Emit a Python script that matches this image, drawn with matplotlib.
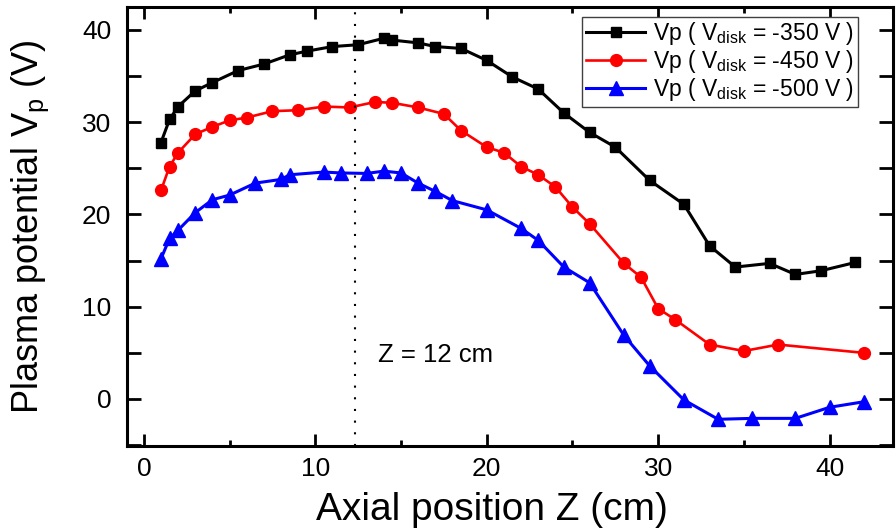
import matplotlib
matplotlib.use("Agg")
import matplotlib.pyplot as plt
from matplotlib.ticker import MultipleLocator

plt.rcParams['font.family'] = ['Liberation Sans', 'DejaVu Sans']
plt.rcParams['mathtext.fontset'] = 'custom'
plt.rcParams['mathtext.rm'] = 'Liberation Sans'
plt.rcParams['mathtext.it'] = 'Liberation Sans:italic'
plt.rcParams['mathtext.bf'] = 'Liberation Sans:bold'

# ---- data ----
z_350 = [1, 1.5, 2, 3, 4, 5.5, 7, 8.5, 9.5, 11, 12.5, 14, 14.5, 16, 17, 18.5,
         20, 21.5, 23, 24.5, 26, 27.5, 29.5, 31.5, 33, 34.5, 36.5, 38, 39.5, 41.5]
vp_350 = [27.8, 30.3, 31.7, 33.4, 34.3, 35.6, 36.3, 37.3, 37.7, 38.2, 38.4, 39.1,
          38.9, 38.6, 38.2, 38.0, 36.7, 34.9, 33.6, 31.0, 28.9, 27.3, 23.7, 21.1,
          16.6, 14.3, 14.7, 13.5, 13.9, 14.8]

z_450 = [1, 1.5, 2, 3, 4, 5, 6, 7.5, 9, 10.5, 12, 13.5, 14.5, 16, 17.5, 18.5,
         20, 21, 22, 23, 24, 25, 26, 28, 29, 30, 31, 33, 35, 37, 42]
vp_450 = [22.6, 25.2, 26.7, 28.7, 29.5, 30.2, 30.5, 31.2, 31.3, 31.7, 31.6, 32.2,
          32.1, 31.6, 30.9, 29.1, 27.3, 26.7, 25.2, 24.3, 23.0, 20.8, 19.0, 14.7,
          13.2, 9.8, 8.6, 5.9, 5.2, 5.9, 5.0]

z_500 = [1, 1.5, 2, 3, 4, 5, 6.5, 8, 8.5, 10.5, 11.5, 13, 14, 15, 16, 17, 18,
         20, 22, 23, 24.5, 26, 28, 29.5, 31.5, 33.5, 35.5, 38, 40, 42]
vp_500 = [15.2, 17.4, 18.3, 20.2, 21.6, 22.1, 23.4, 23.8, 24.3, 24.6, 24.5, 24.45,
          24.7, 24.5, 23.4, 22.5, 21.5, 20.5, 18.5, 17.2, 14.3, 12.6, 6.9, 3.6,
          -0.1, -2.2, -2.1, -2.1, -0.9, -0.3]

labels = [r'Vp ( V$_{\mathrm{disk}}$ = -350 V )',
          r'Vp ( V$_{\mathrm{disk}}$ = -450 V )',
          r'Vp ( V$_{\mathrm{disk}}$ = -500 V )']
z_mark = 12.3
mark_text = 'Z = 12 cm'

# ---- figure ----
fig = plt.figure(figsize=(8.96, 5.31), dpi=100)
ax = fig.add_axes([0.1414, 0.160, 0.9967 - 0.1414, 0.987 - 0.160])

ax.plot(z_350, vp_350, color='black', lw=2.2, marker='s', ms=7.5, label=labels[0])
ax.plot(z_450, vp_450, color='#ff0000', lw=1.9, marker='o', ms=8.5, label=labels[1])
ax.plot(z_500, vp_500, color='#0000ff', lw=2.2, marker='^', ms=9.5, label=labels[2])

ax.axvline(z_mark, color='black', lw=1.5, linestyle=(0, (1, 4.6)))
ax.text(13.66, 4.8, mark_text, fontsize=18.5, ha='left', va='center')

ax.set_xlim(-1, 43.7)
ax.set_ylim(-5.1, 42.5)

ax.xaxis.set_major_locator(MultipleLocator(10))
ax.xaxis.set_minor_locator(MultipleLocator(5))
ax.yaxis.set_major_locator(MultipleLocator(10))
ax.yaxis.set_minor_locator(MultipleLocator(5))

for s in ax.spines.values():
    s.set_linewidth(2.2)

ax.tick_params(axis='x', which='major', direction='in', length=8.6, width=2,
               top=True, labelsize=19, pad=8)
ax.tick_params(axis='x', which='minor', direction='in', length=4.3, width=2, top=True)
ax.tick_params(axis='y', which='major', direction='in', length=10, width=2,
               right=True, labelsize=19, pad=11)
ax.tick_params(axis='y', which='minor', direction='in', length=10, width=2, right=True)

ax.set_xlabel('Axial position Z (cm)', fontsize=28, labelpad=6)
ax.xaxis.set_label_coords(0.477, -0.105)
ax.set_ylabel(r'Plasma potential V$_{\mathrm{p}}$ (V)', fontsize=26, labelpad=22)

leg = ax.legend(loc='upper right', bbox_to_anchor=(0.954, 0.978), borderaxespad=0,
                fontsize=16.5, fancybox=False, framealpha=1, edgecolor='#404040',
                handlelength=2.6, handletextpad=0.35, borderpad=0.15,
                labelspacing=0.05)
leg.get_frame().set_linewidth(1.0)

fig.savefig('out.png', dpi=100)
